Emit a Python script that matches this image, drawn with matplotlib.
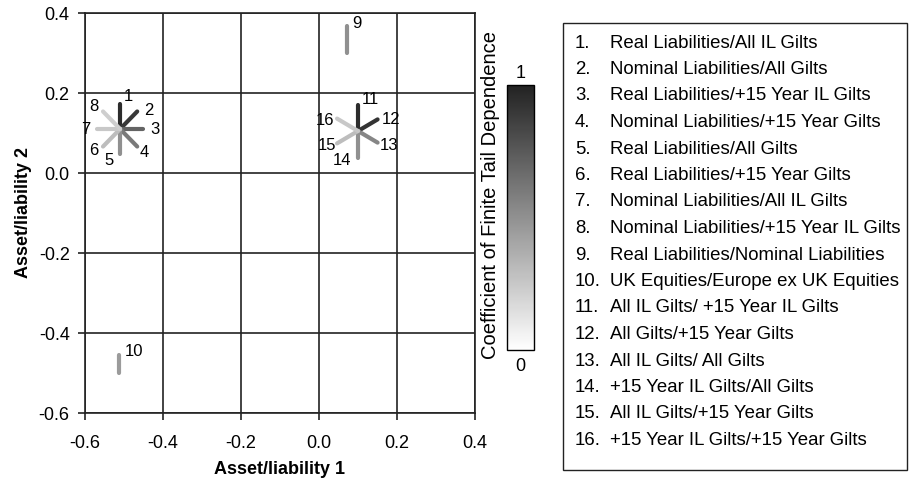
import numpy as np
import matplotlib.pyplot as plt
from matplotlib.colors import LinearSegmentedColormap, Normalize
from matplotlib.colorbar import ColorbarBase
from matplotlib.patches import Rectangle

plt.rcParams['font.family'] = ['Liberation Sans', 'DejaVu Sans']

# star glyphs: centre, ray ids, ray lengths, tail dependence coefficients
star_centres = [(-0.51, 0.11), (0.10, 0.105), (0.072, 0.30), (-0.512, -0.50)]
star_ids = [[1, 2, 3, 4, 5, 6, 7, 8], [11, 12, 13, 14, 15, 16], [9], [10]]
star_lengths = [
    [0.062, 0.062, 0.058, 0.062, 0.062, 0.062, 0.06, 0.062],
    [0.065, 0.058, 0.058, 0.067, 0.062, 0.062],
    [0.068],
    [0.046],
]
star_coef = [
    [0.95, 0.90, 0.70, 0.60, 0.50, 0.30, 0.25, 0.22],
    [0.95, 0.92, 0.55, 0.50, 0.30, 0.25],
    [0.50],
    [0.45],
]

legend_labels = [
    "Real Liabilities/All IL Gilts",
    "Nominal Liabilities/All Gilts",
    "Real Liabilities/+15 Year IL Gilts",
    "Nominal Liabilities/+15 Year Gilts",
    "Real Liabilities/All Gilts",
    "Real Liabilities/+15 Year Gilts",
    "Nominal Liabilities/All IL Gilts",
    "Nominal Liabilities/+15 Year IL Gilts",
    "Real Liabilities/Nominal Liabilities",
    "UK Equities/Europe ex UK Equities",
    "All IL Gilts/ +15 Year IL Gilts",
    "All Gilts/+15 Year Gilts",
    "All IL Gilts/ All Gilts",
    "+15 Year IL Gilts/All Gilts",
    "All IL Gilts/+15 Year Gilts",
    "+15 Year IL Gilts/+15 Year Gilts",
]

xticks = [-0.6, -0.4, -0.2, 0.0, 0.2, 0.4]
yticks = [-0.6, -0.4, -0.2, 0.0, 0.2, 0.4]

FS = 13
W, H = 909, 478

cmap = LinearSegmentedColormap.from_list('tail', ['#ffffff', '#222222'])
norm = Normalize(0, 1)

fig = plt.figure(figsize=(W / 100, H / 100), dpi=100)
ax = fig.add_axes([85 / W, 1 - 413 / H, 390 / W, 400 / H])

# label angle tweaks (deg) so numbers sit clear of the rays
label_shift = {1: -14, 2: -12, 5: -18, 6: -5, 8: 3, 11: -20, 12: -10, 13: 5,
               14: -28, 15: -5, 16: 12}

for (cx, cy), ids, lens, coefs in zip(star_centres, star_ids, star_lengths, star_coef):
    n = len(ids)
    for k, (i, r, c) in enumerate(zip(ids, lens, coefs)):
        ang = np.deg2rad(90 - 360.0 * k / n)
        ax.plot([cx, cx + r * np.cos(ang)], [cy, cy + r * np.sin(ang)],
                color=cmap(norm(c)), lw=3, solid_capstyle='round', zorder=3)
        if n == 1:
            ax.annotate(str(i), (cx, cy + r), xytext=(4, 2), textcoords='offset points',
                        fontsize=FS - 1, ha='left', va='center')
        else:
            la = np.deg2rad(90 - 360.0 * k / n + label_shift.get(i, 0))
            ax.annotate(str(i), (cx, cy), xytext=(25 * np.cos(la), 24 * np.sin(la)),
                        textcoords='offset points', fontsize=FS - 1,
                        ha='center', va='center')

ax.set_xlim(-0.6, 0.4)
ax.set_ylim(-0.6, 0.4)
ax.set_xticks(xticks)
ax.set_yticks(yticks)
ax.set_xticklabels([f"{v:.1f}" for v in xticks])
ax.set_yticklabels([f"{v:.1f}" for v in yticks])
ax.grid(True, color='#222222', lw=1.2)
ax.set_axisbelow(True)
ax.tick_params(direction='out', length=5, width=1.2, color='#222222', labelsize=FS)
ax.tick_params(axis='x', pad=11)
ax.tick_params(axis='y', pad=6)
for s in ax.spines.values():
    s.set_linewidth(1.2)
    s.set_color('#222222')
ax.set_xlabel("Asset/liability 1", fontsize=FS, fontweight='bold', labelpad=6)
ax.set_ylabel("Asset/liability 2", fontsize=FS, fontweight='bold', labelpad=5)

# colorbar
cax = fig.add_axes([507 / W, 1 - 350 / H, 27 / W, 265 / H])
cb = ColorbarBase(cax, cmap=cmap, norm=norm, orientation='vertical')
cb.set_ticks([])
cb.outline.set_linewidth(1)
cax.text(0.5, 1.01, "1", transform=cax.transAxes, ha='center', va='bottom', fontsize=FS)
cax.text(0.5, -0.03, "0", transform=cax.transAxes, ha='center', va='top', fontsize=FS)
fig.text(490 / W, 1 - 195 / H, "Coefficient of Finite Tail Dependence",
         rotation=90, ha='center', va='center', fontsize=14.5)

# legend box
fig.patches.append(Rectangle((563 / W, 1 - 470 / H), 344 / W, 447 / H,
                             transform=fig.transFigure, fill=False, lw=1, ec='#222222'))
for j, lab in enumerate(legend_labels):
    y = 1 - (43 + j * 26.5) / H
    fig.text(575 / W, y, f"{j + 1}.", fontsize=13.4, va='center', ha='left')
    fig.text(610 / W, y, lab, fontsize=13.4, va='center', ha='left')

fig.savefig('out.png', dpi=100)
